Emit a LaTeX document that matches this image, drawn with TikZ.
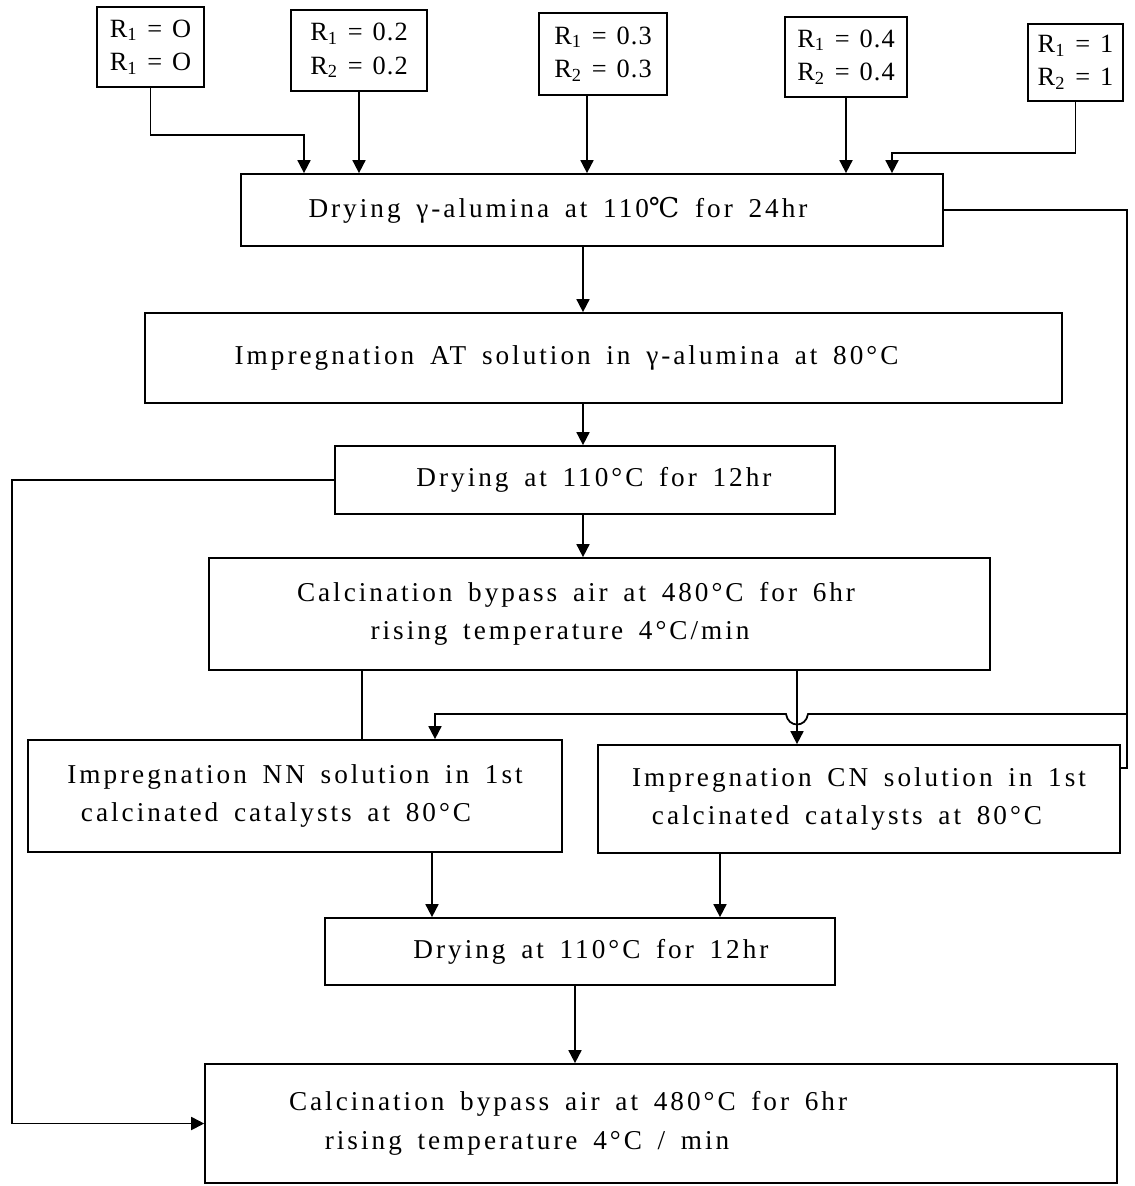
\documentclass[tikz,border=0pt]{standalone}
\usepackage{fontspec}
\setmainfont{Liberation Serif}[LetterSpace=11,WordSpace=1.6]
\newfontfamily\rfont{Liberation Serif}[LetterSpace=4,WordSpace=1.3]
\newfontfamily\degfont{DejaVu Serif}
\usetikzlibrary{arrows.meta,calc}

\newcommand{\degC}{{\degfont ℃}}

\begin{document}
\begin{tikzpicture}[x=0.02cm,y=-0.02cm,line width=1pt,
    box/.style={draw,rectangle,align=center,inner sep=0pt,font=\fontsize{15.5}{22}\selectfont},
    rbox/.style={draw,rectangle,align=center,inner sep=0pt,font=\rfont\fontsize{15}{19}\selectfont},
    arr/.style={-{Triangle[length=2.6mm,width=2.6mm]}}]
    \useasboundingbox (0,0) rectangle (1135,1186);
    % ratio boxes
    \node[rbox,minimum width=2.14cm,minimum height=1.6cm] (r1) at (150.5,47) {R\textsubscript{1} = O\\R\textsubscript{1} = O};
    \node[rbox,minimum width=2.72cm,minimum height=1.62cm] (r2) at (359,50.5) {R\textsubscript{1} = 0.2\\R\textsubscript{2} = 0.2};
    \node[rbox,minimum width=2.56cm,minimum height=1.64cm] (r3) at (603,54) {R\textsubscript{1} = 0.3\\R\textsubscript{2} = 0.3};
    \node[rbox,minimum width=2.44cm,minimum height=1.6cm] (r4) at (846,57) {R\textsubscript{1} = 0.4\\R\textsubscript{2} = 0.4};
    \node[rbox,minimum width=1.9cm,minimum height=1.54cm] (r5) at (1075.5,62.5) {R\textsubscript{1} = 1\\R\textsubscript{2} = 1};
    % process steps
    \node[box,minimum width=14.04cm,minimum height=1.44cm] (dry1) at (592,210) {Drying γ-alumina at 110\degC{} for 24hr\hspace*{1.36cm}};
    \node[box,minimum width=18.34cm,minimum height=1.8cm] (impAT) at (603.5,358) {Impregnation AT solution in γ-alumina at 80°C\hspace*{1.48cm}};
    \node[box,minimum width=10cm,minimum height=1.36cm] (dry2) at (585,480) {\hspace*{0.36cm}Drying at 110°C for 12hr};
    \node[box,minimum width=15.62cm,minimum height=2.24cm] (calc1) at (599.5,614) {Calcination bypass air at 480°C for 6hr\hspace*{0.94cm}\\rising temperature 4°C/min\hspace*{1.58cm}};
    \node[box,minimum width=10.68cm,minimum height=2.24cm] (impNN) at (295,796) {Impregnation NN solution in 1st\\calcinated catalysts at 80°C\hspace*{0.76cm}};
    \node[box,minimum width=10.44cm,minimum height=2.16cm] (impCN) at (859,799) {Impregnation CN solution in 1st\\calcinated catalysts at 80°C\hspace*{0.48cm}};
    \node[box,minimum width=10.2cm,minimum height=1.34cm] (dry3) at (580,951.5) {\hspace*{0.44cm}Drying at 110°C for 12hr};
    \node[box,minimum width=18.24cm,minimum height=2.38cm] (calc2) at (661,1123.5) {Calcination bypass air at 480°C for 6hr\hspace*{3.72cm}\\rising temperature 4°C / min\hspace*{5.36cm}};
    % bends and drop lines
    \coordinate (j1) at (304,135);
    \coordinate (j5) at (892,153);
    \coordinate (r3x) at (587,0);
    \coordinate (spine) at (583,0);
    \coordinate (rt) at (1127,768);
    \coordinate (br) at (1127,714);
    \coordinate (nnx) at (362,0);
    \coordinate (cnx) at (797,0);
    \coordinate (nna) at (435,714);
    \coordinate (lft) at (12,0);
    \coordinate (nnd) at (432,0);
    \coordinate (cnd) at (720,0);
    \coordinate (lowx) at (575,0);
    % connectors
    \draw[arr] (r1) |- (j1) -- (j1 |- dry1.north);
    \draw[arr] (r2) -- (r2 |- dry1.north);
    \draw[arr] (r3.south -| r3x) -- (dry1.north -| r3x);
    \draw[arr] (r4) -- (r4 |- dry1.north);
    \draw[arr] (r5) |- (j5) -- (j5 |- dry1.north);
    \draw[arr] (dry1.south -| spine) -- (impAT.north -| spine);
    \draw[arr] (impAT.south -| spine) -- (dry2.north -| spine);
    \draw[arr] (dry2.south -| spine) -- (calc1.north -| spine);
    \draw (calc1.south -| nnx) -- (impNN.north -| nnx);
    \draw[arr] (calc1.south -| cnx) -- (impCN.north -| cnx);
    \draw (dry1.east) -| (rt) -- (rt -| impCN.east);
    \draw[arr] (br) -- ($(cnx |- br)+(11,0)$) .. controls +(-2,14) and +(2,14) .. ($(cnx |- br)+(-11,0)$) -- (nna) -- (nna |- impNN.north);
    \draw[arr] (dry2.west) -| (lft |- calc2.west) -- (calc2.west);
    \draw[arr] (impNN.south -| nnd) -- (dry3.north -| nnd);
    \draw[arr] (impCN.south -| cnd) -- (dry3.north -| cnd);
    \draw[arr] (dry3.south -| lowx) -- (calc2.north -| lowx);
\end{tikzpicture}
\end{document}
